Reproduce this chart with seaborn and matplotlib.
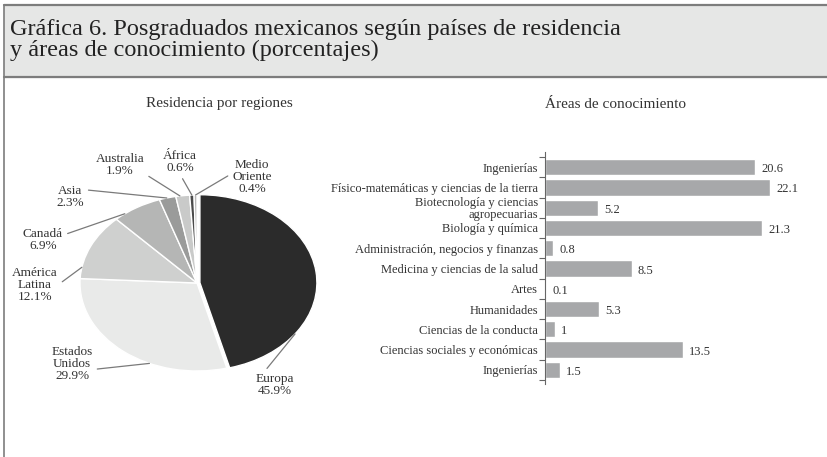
import matplotlib
matplotlib.use("Agg")
import matplotlib.pyplot as plt
import seaborn as sns
import numpy as np
import pandas as pd

# --- data -------------------------------------------------------------
regiones = ["Europa", "Estados\nUnidos", "América\nLatina", "Canadá", "Asia",
            "Australia", "África", "Medio\nOriente"]
region_pct = [45.9, 29.9, 12.1, 6.9, 2.3, 1.9, 0.6, 0.4]

areas = ["Ingenierías", "Físico-matemáticas y ciencias de la tierra",
         "Biotecnología y ciencias\nagropecuarias", "Biología y química",
         "Administración, negocios y finanzas", "Medicina y ciencias de la salud",
         "Artes", "Humanidades", "Ciencias de la conducta",
         "Ciencias sociales y económicas", "Ingenierías"]
area_pct = [20.6, 22.1, 5.2, 21.3, 0.8, 8.5, 0.1, 5.3, 1, 13.5, 1.5]
area_txt = ["20.6", "22.1", "5.2", "21.3", "0.8", "8.5", "0.1", "5.3", "1", "13.5", "1.5"]

# --- style ------------------------------------------------------------
sns.set_theme(style="white")
plt.rcParams["font.family"] = ["Liberation Serif", "DejaVu Serif"]
txt_col = "#333333"

W, H = 828, 457
fig = plt.figure(figsize=(W / 100, H / 100), dpi=100)

# frame and header band
bg = fig.add_axes([0, 0, 1, 1])
bg.set_xlim(0, W)
bg.set_ylim(H, 0)
bg.axis("off")
bg.fill_between([4, W], 5, 77, color="#e6e7e6", zorder=0)
bg.plot([4, W], [5, 5], color="#7d7d7d", lw=1.6)
bg.plot([4, W], [77, 77], color="#7d7d7d", lw=1.6)
bg.plot([4, 4], [5, H], color="#7d7d7d", lw=1.2)
bg.text(10, 40, "Gráfica 6. Posgraduados mexicanos según países de residencia\n"
        "y áreas de conocimiento (porcentajes)", fontsize=17.5, color="#222222",
        va="center", ha="left", linespacing=1.0)
bg.text(219, 104, "Residencia por regiones", fontsize=11, color=txt_col,
        ha="center", va="center")
bg.text(616, 104, "Áreas de conocimiento", fontsize=11, color=txt_col,
        ha="center", va="center")

# --- pie (elliptical) --------------------------------------------------
ax1 = fig.add_axes([0, 12 / H, 400 / W, 320 / H])
pie_colors = ["#2b2b2b", "#e9eae9", "#cfd0cf", "#b5b6b5", "#9a9b9a",
              "#c9cac9", "#4a4a4a", "#b8b8b8"]
explode = [0.025, 0, 0, 0, 0, 0, 0, 0]
wedges, _ = ax1.pie(region_pct, colors=pie_colors, startangle=90,
                    counterclock=False, explode=explode,
                    wedgeprops=dict(edgecolor="white", linewidth=1.0))
ax1.set_aspect("auto")
cx, cy, rx, ry = 197, 283, 117, 88
ax1.set_xlim(-cx / rx, (400 - cx) / rx)
ax1.set_ylim(-(445 - cy) / ry, (cy - 125) / ry)

# label layout: text centre (figure px from top-left), anchor fraction along wedge
# (clockwise), and where the leader line leaves the text
lab_pos = [(275, 385), (72, 364), (35, 285), (43, 240), (70, 197),
           (120, 165), (180, 162), (252, 177)]
anchor_frac = [0.76, 0.36, 0.17, 0.22, 0.45, 0.3, 0.5, 0.5]
rel_pos = [(0.2, 1.0), (1.0, 0.35), (1.0, 0.5), (1.0, 0.7), (1.0, 0.8),
           (1.0, 0.15), (0.5, 0.0), (0.0, 0.6)]
for w, name, pct, (tx, ty), f, rp in zip(wedges, regiones, region_pct, lab_pos,
                                        anchor_frac, rel_pos):
    t1, t2 = w.theta1, w.theta2
    ang = np.deg2rad(t2 - (t2 - t1) * f)
    ox, oy = w.center
    xy = (ox + np.cos(ang), oy + np.sin(ang))
    ax1.annotate(f"{name}\n{pct}%", xy=xy, xytext=(tx, H - ty),
                 textcoords="figure pixels", ha="center", va="center",
                 fontsize=9.5, color=txt_col, linespacing=1.05,
                 arrowprops=dict(arrowstyle="-", color="#7a7a7a", lw=0.9,
                                 relpos=rp, shrinkA=1, shrinkB=0))

# --- bars -------------------------------------------------------------
ax2 = fig.add_axes([545 / W, 1 - 384 / H, 270 / W, 232 / H])
df = pd.DataFrame({"pos": [str(i) for i in range(len(areas))], "pct": area_pct})
sns.barplot(data=df, x="pct", y="pos", orient="h", color="#a7a8aa",
            saturation=1, width=0.8, ax=ax2)
ax2.set_xlim(0, 26.5)
ax2.set_ylim(len(areas) - 0.3, -0.75)
ax2.set_yticks(range(len(areas)))
ax2.set_yticklabels(areas, fontsize=9, color=txt_col, linespacing=0.95)
ax2.set_yticks(np.arange(-0.5, len(areas), 1), minor=True)
ax2.tick_params(axis="y", which="major", length=0, pad=5)
ax2.tick_params(axis="y", which="minor", length=4, width=0.8, color="#666666",
                left=True)
ax2.set_xticks([])
ax2.set_xlabel("")
ax2.set_ylabel("")
for s in ["top", "right", "bottom"]:
    ax2.spines[s].set_visible(False)
ax2.spines["left"].set_color("#666666")
ax2.spines["left"].set_linewidth(0.8)
for i, (v, t) in enumerate(zip(area_pct, area_txt)):
    ax2.text(v + 0.6, i + 0.1, t, fontsize=9, color=txt_col, va="center")

fig.savefig("out.png", dpi=100)
